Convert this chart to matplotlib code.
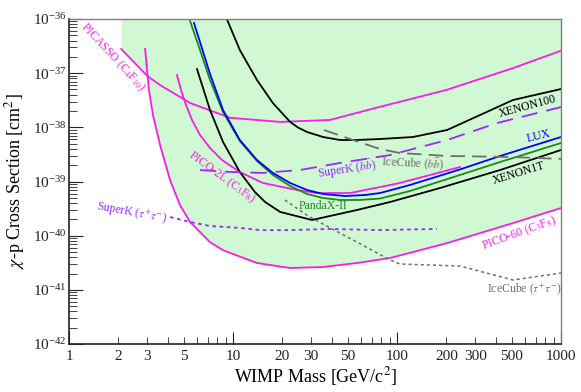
import numpy as np
import matplotlib
matplotlib.use('Agg')
import matplotlib.pyplot as plt
from matplotlib.ticker import FixedLocator, LogLocator, FuncFormatter, LogFormatterMathtext, NullFormatter

plt.rcParams['font.family'] = ['Liberation Serif', 'DejaVu Serif']
plt.rcParams['mathtext.fontset'] = 'stix'

# limits: WIMP mass [GeV] and cross section [cm^2]
picasso_m = [2.08, 3.0, 3.6, 5.5, 9.6, 19.4, 39, 79, 200, 510, 1000]
picasso_s = [2.8e-37, 8.9e-38, 6.0e-38, 2.8e-38, 1.5e-38, 1.26e-38, 1.37e-38, 2.4e-38, 4.9e-38, 1.24e-37, 2.6e-37]

pico60_m = [2.91, 3.07, 3.25, 3.59, 4.13, 4.75, 5.47, 7.24, 8.69, 14.0, 22.3, 35.4, 57.0, 90.6, 202, 510, 1000]
pico60_s = [2.8e-37, 4.9e-38, 1.69e-38, 4.72e-39, 1.07e-39, 3.68e-40, 1.79e-40, 7.6e-41, 5.4e-41, 3.13e-41,
            2.53e-41, 2.64e-41, 3.13e-41, 3.87e-41, 7.3e-41, 1.71e-40, 3.24e-40]

pico2l_m = [4.55, 4.82, 5.17, 5.62, 6.29, 7.24, 8.57, 11.0, 15.2, 24.6, 32.5, 51.7, 78.8, 104, 159, 242]
pico2l_s = [9.25e-38, 4.89e-38, 2.58e-38, 1.37e-38, 7.22e-39, 4.16e-39, 2.49e-39, 1.50e-39, 9.4e-40, 6.97e-40,
            6.13e-40, 6.13e-40, 7.9e-40, 9.4e-40, 1.32e-39, 1.85e-39]

xenon100_m = [9.06, 11.0, 14.0, 17.5, 22.3, 24.9, 28.3, 35.4, 44.9, 57.0, 78.8, 125, 202, 321, 510, 1000]
xenon100_s = [1.09e-36, 2.68e-37, 7.48e-38, 2.81e-38, 1.26e-38, 9.93e-39, 8.2e-39, 6.63e-39, 5.84e-39, 5.84e-39,
              6.09e-39, 6.63e-39, 8.93e-39, 1.69e-38, 3.2e-38, 5.1e-38]

xenon1t_m = [6.03, 7.24, 8.69, 11.0, 13.6, 15.7, 19.4, 30.3, 57.0, 90.6, 183, 425, 1000]
xenon1t_s = [1.19e-37, 2.09e-38, 5.36e-39, 1.5e-39, 6.4e-40, 4.18e-40, 2.74e-40, 1.95e-40, 2.98e-40, 4.18e-40,
             7.59e-40, 1.63e-39, 3.82e-39]

lux_m = [5.78, 6.29, 7.24, 8.69, 11.0, 14.0, 17.5, 22.3, 28.3, 35.4, 48.2, 63.8, 78.8, 120, 242, 425, 1000]
lux_s = [8.44e-37, 3.76e-37, 9.66e-38, 2.09e-38, 5.84e-39, 2.49e-39, 1.44e-39, 9.38e-40, 6.97e-40, 5.88e-40,
         5.40e-40, 5.64e-40, 6.13e-40, 8.63e-40, 1.67e-39, 2.96e-39, 6.63e-39]

pandax_m = [5.47, 6.29, 7.24, 8.69, 11.0, 14.0, 17.5, 22.3, 28.3, 35.4, 44.9, 59.5, 78.8, 120, 242, 425, 1000]
pandax_s = [9.19e-37, 2.68e-37, 7.48e-38, 1.92e-38, 5.6e-39, 2.39e-39, 1.32e-39, 8.26e-40, 5.88e-40, 4.96e-40,
            4.56e-40, 4.56e-40, 4.85e-40, 6.68e-40, 1.32e-39, 2.29e-39, 5.14e-39]

superk_bb_m = [6.29, 9.59, 15.2, 25.6, 44.9, 90.6, 202, 407, 1000]
superk_bb_s = [1.63e-39, 1.50e-39, 1.44e-39, 1.63e-39, 2.20e-39, 3.08e-39, 5.84e-39, 1.20e-38, 2.37e-38]

superk_tt_m = [4.13, 5.47, 7.24, 11.0, 14.6, 22.3, 39.0, 78.8, 175]
superk_tt_s = [2.21e-40, 1.79e-40, 1.51e-40, 1.39e-40, 1.27e-40, 1.27e-40, 1.33e-40, 1.27e-40, 1.33e-40]

icecube_bb_m = [35.9, 51.7, 78.8, 104, 202, 510, 1000]
icecube_bb_s = [8.93e-39, 6.09e-39, 3.98e-39, 3.36e-39, 2.96e-39, 2.83e-39, 2.61e-39]

icecube_tt_m = [20.7, 28.7, 35.4, 57.0, 90.6, 104, 242, 510, 1000]
icecube_tt_s = [4.56e-40, 2.31e-40, 1.64e-40, 7.63e-41, 3.56e-41, 3.0e-41, 2.75e-41, 1.52e-41, 2.05e-41]

x_major = [1, 10, 100, 1000]
y_major = [1e-42, 1e-41, 1e-40, 1e-39, 1e-38, 1e-37, 1e-36]

magenta = '#f81ce8'
purple = '#9a28ff'
gray = '#6e6e6e'
blue = '#0000ff'
green = '#1a8c1a'

fig = plt.figure(figsize=(5.81, 3.92), dpi=100)
ax = fig.add_axes([0.1188, 0.1224, 0.8468, 0.8291])

# shaded region above the PICASSO / PICO-60 envelope
grid = np.logspace(np.log10(picasso_m[0]), 3, 500)
lp = np.interp(np.log10(grid), np.log10(picasso_m), np.log10(picasso_s))
lq = np.interp(np.log10(grid), np.log10(pico60_m), np.log10(pico60_s), left=np.inf)
ax.fill_between(grid, 10 ** np.minimum(lp, lq), 1e-36, color='#d0f8d2', lw=0, zorder=0)

lw = 1.3
ax.plot(picasso_m, picasso_s, color=magenta, lw=lw)
ax.plot(pico60_m, pico60_s, color=magenta, lw=lw)
ax.plot(pico2l_m, pico2l_s, color=magenta, lw=lw)
ax.plot(xenon100_m, xenon100_s, color='black', lw=lw)
ax.plot(xenon1t_m, xenon1t_s, color='black', lw=lw)
ax.plot(pandax_m, pandax_s, color=green, lw=lw)
ax.plot(lux_m, lux_s, color=blue, lw=lw)
ax.plot(superk_bb_m, superk_bb_s, color=purple, lw=lw, dashes=(9, 5))
ax.plot(superk_tt_m, superk_tt_s, color=purple, lw=lw, dashes=(2, 2))
ax.plot(icecube_bb_m, icecube_bb_s, color=gray, lw=lw, dashes=(8, 4))
ax.plot(icecube_tt_m, icecube_tt_s, color=gray, lw=1.1, dashes=(2, 2))

fs = 8.5
def label(x, y, s, c, rot=0):
    ax.text(x, y, s, color=c, fontsize=fs, rotation=rot, rotation_mode='anchor', ha='center', va='center')

label(1.85, 2.0e-37, 'PICASSO (C$_4$F$_{10}$)', magenta, -47)
label(8.57, 1.21e-39, 'PICO-2L (C$_3$F$_8$)', magenta, -36)
label(560, 1.12e-40, 'PICO-60 (C$_3$F$_8$)', magenta, 20)
label(629, 2.4e-38, 'XENON100', 'black', 15)
label(555, 1.44e-39, 'XENON1T', 'black', 17)
label(734, 6.9e-39, 'LUX', blue, 14)
label(35.4, 3.53e-40, 'PandaX-II', green, 0)
label(49.5, 1.63e-39, r'SuperK ($b\bar{b}$)', purple, 9)
label(125, 2.2e-39, r'IceCube ($b\bar{b}$)', gray, -3)
label(2.42, 2.62e-40, r'SuperK ($\tau^{+}\tau^{-}$)', purple, -10)
label(595, 9.9e-42, r'IceCube ($\tau^{+}\tau^{-}$)', gray, 0)

ax.set_xscale('log')
ax.set_yscale('log')
ax.set_xlim(1, 1000)
ax.set_ylim(1e-42, 1e-36)

ax.xaxis.set_major_locator(FixedLocator(x_major))
ax.xaxis.set_major_formatter(FuncFormatter(lambda v, p: '%d' % round(v)))
ax.xaxis.set_minor_locator(LogLocator(base=10, subs=np.arange(2, 10)))
def minor_fmt(v, p):
    d = int(round(v / 10 ** np.floor(np.log10(v) + 1e-9)))
    return '%d' % round(v) if d in (2, 3, 5) else ''
ax.xaxis.set_minor_formatter(FuncFormatter(minor_fmt))

ax.yaxis.set_major_locator(FixedLocator(y_major))
ax.yaxis.set_major_formatter(LogFormatterMathtext())
ax.yaxis.set_minor_locator(LogLocator(base=10, subs=np.arange(2, 10), numticks=20))
ax.yaxis.set_minor_formatter(NullFormatter())

ax.tick_params(which='both', direction='in', top=False, right=False, labelsize=11, colors='#222222')
ax.tick_params(axis='y', which='major', length=10, pad=2)
ax.tick_params(axis='y', which='minor', length=6)
ax.tick_params(axis='x', which='major', length=9, pad=4)
ax.tick_params(axis='x', which='minor', length=5, pad=4)

for s in ['left', 'bottom']:
    ax.spines[s].set_color('#222222')
    ax.spines[s].set_linewidth(1.2)
for s in ['top', 'right']:
    ax.spines[s].set_color('#808080')
    ax.spines[s].set_linewidth(1.0)

ax.set_xlabel('WIMP Mass [GeV/c$^2$]', fontsize=13, labelpad=2)
ax.set_ylabel(r'$\chi$-p Cross Section [cm$^2$]', fontsize=13, labelpad=4)

fig.savefig('out.png', dpi=100)
